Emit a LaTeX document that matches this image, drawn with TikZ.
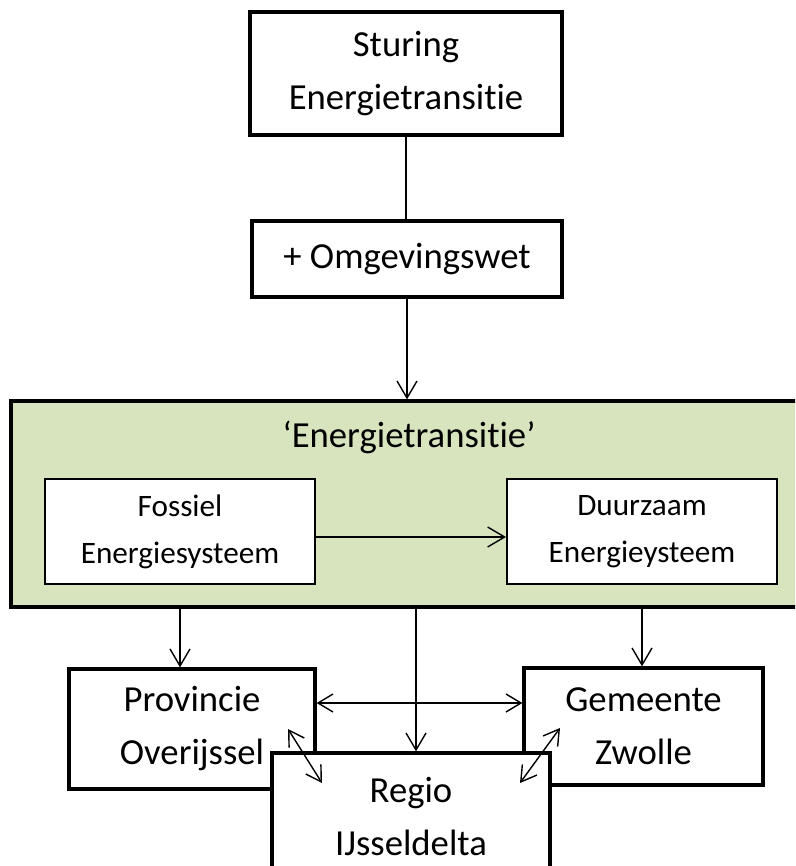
\documentclass[tikz,border=0pt]{standalone}
\usepackage{fontspec}
\setmainfont{Carlito}[Ligatures={TeX,NoCommon}]
\usepackage{tikz}
\usetikzlibrary{arrows.meta,positioning,calc}
\definecolor{transgroen}{HTML}{D7E4BD}

\begin{document}
\begin{tikzpicture}[x=1pt,y=-1pt,
        blok/.style={draw, line width=3.3pt, fill=white, align=center, inner sep=0pt, font={\fontsize{36.7}{53}\selectfont}},
        binnenblok/.style={draw, line width=2pt, fill=white, align=center, inner sep=0pt, font={\fontsize{31.2}{47}\selectfont}},
        pijl/.style={line width=1.4pt, -{Straight Barb[length=17pt,width=20pt]}},
        tweepijl/.style={line width=1.4pt, {Straight Barb[length=15pt,width=18pt]}-{Straight Barb[length=15pt,width=18pt]}}]
        \useasboundingbox (0,0) rectangle (795,866);
        \clip (0,0) rectangle (795,866);

        \node[blok, minimum width=312pt, minimum height=123pt] (sturing) at (406,73.5) {Sturing\\Energietransitie};
        \node[blok, minimum width=310pt, minimum height=76pt] (omgeving) at (407,259) {+ Omgevingswet};

        % energietransitie
        \node[draw, line width=3.3pt, fill=transgroen, minimum width=808pt, minimum height=206pt] (transitie) at (415,504) {};
        \node[font={\fontsize{36.7}{53}\selectfont}] (titel) at (409,437) {‘Energietransitie’};
        \node[binnenblok, minimum width=270pt, minimum height=105pt] (fossiel) at (180,531.5) {Fossiel\\Energiesysteem};
        \node[binnenblok, minimum width=270pt, minimum height=105pt] (duurzaam) at (642,531.5) {Duurzaam\\Energieysteem};

        % overheden
        \node[blok, minimum width=246pt, minimum height=120pt] (provincie) at (192,729) {Provincie\\Overijssel};
        \node[blok, minimum width=239pt, minimum height=117pt] (gemeente) at (643.5,726.5) {Gemeente\\Zwolle};
        \node[blok, minimum width=278pt, minimum height=127pt] (regio) at (411,816.5) {Regio\\IJsseldelta};

        \draw[line width=1.4pt] (sturing.south) -- (sturing.south |- omgeving.north);
        \draw[pijl] (omgeving.south) -- (omgeving.south |- transitie.north);
        \draw[pijl] ([yshift=-5.5pt]fossiel.east) -- ([yshift=-5.5pt]fossiel.east -| duurzaam.west);

        \draw[pijl] (fossiel.south |- transitie.south) -- (fossiel.south |- provincie.north);
        \draw[pijl] ([xshift=5pt]regio.north |- transitie.south) -- ([xshift=5pt]regio.north);
        \draw[pijl] (duurzaam.south |- transitie.south) -- (duurzaam.south |- gemeente.north);
        \draw[tweepijl] ([yshift=26pt]provincie.east) -- ([yshift=26pt]provincie.east -| gemeente.west);

        \coordinate (pr1) at (288,729);
        \coordinate (pr2) at (322,783);
        \coordinate (gr1) at (560,728);
        \coordinate (gr2) at (520,783);
        \draw[tweepijl] (pr1) -- (pr2);
        \draw[tweepijl] (gr1) -- (gr2);
    \end{tikzpicture}
\end{document}
